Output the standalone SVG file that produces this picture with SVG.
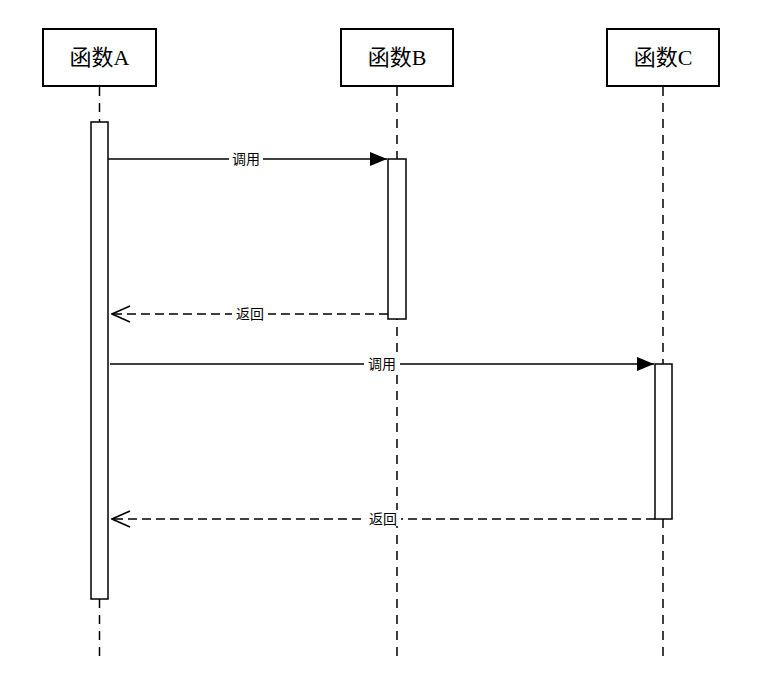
<svg xmlns="http://www.w3.org/2000/svg" width="766" height="691" viewBox="0 0 766 691">
<defs>
<style>
.box{fill:#fff;stroke:#000;stroke-width:2}
.life{stroke:#000;stroke-width:1.5;stroke-dasharray:9 7;fill:none}
.act{fill:#fff;stroke:#000;stroke-width:1.5}
.call{stroke:#000;stroke-width:1.5;fill:none}
.ret{stroke:#000;stroke-width:1.5;stroke-dasharray:9 5;fill:none}
.title{font-family:"Liberation Serif","Noto Sans CJK SC",serif;font-size:22px;text-anchor:middle}
.lbl{font-family:"Noto Sans CJK SC",sans-serif;font-size:14px;text-anchor:middle}
.bg{fill:#fff}
</style>
<marker id="filled" markerWidth="18" markerHeight="14" refX="17" refY="7" orient="auto" markerUnits="userSpaceOnUse">
<path d="M0,0 L17,7 L0,14 Z" fill="#000"/>
</marker>
<marker id="open" markerWidth="20" markerHeight="18" refX="19" refY="9" orient="auto" markerUnits="userSpaceOnUse">
<path d="M1,1 L19,9 L1,17" fill="none" stroke="#000" stroke-width="1.5"/>
</marker>
</defs>
<g id="lifelines">
<line class="life" x1="99.5" y1="87" x2="99.5" y2="662"/>
<line class="life" x1="397" y1="87" x2="397" y2="662"/>
<line class="life" x1="663" y1="87" x2="663" y2="662"/>
</g>
<g id="funcA">
<rect class="box" x="43" y="29" width="113" height="57"/>
<text class="title" x="99.5" y="65">函数A</text>
</g>
<g id="funcB">
<rect class="box" x="341" y="29" width="112" height="57"/>
<text class="title" x="397" y="65">函数B</text>
</g>
<g id="funcC">
<rect class="box" x="607" y="29" width="112" height="57"/>
<text class="title" x="663" y="65">函数C</text>
</g>
<g id="actA"><rect class="act" x="91" y="122" width="17" height="477"/></g>
<g id="actB"><rect class="act" x="388" y="159" width="18" height="160"/></g>
<g id="actC"><rect class="act" x="655" y="364" width="17" height="155"/></g>
<g id="connectors">
<line class="call" x1="108" y1="159" x2="387" y2="159" marker-end="url(#filled)"/>
<rect class="bg" x="229" y="150" width="34" height="16"/>
<text class="lbl" x="246" y="164">调用</text>
<line class="ret" x1="388" y1="314" x2="112" y2="314" marker-end="url(#open)"/>
<rect class="bg" x="232" y="305" width="36" height="16"/>
<text class="lbl" x="250" y="319">返回</text>
<line class="call" x1="110" y1="364" x2="654" y2="364" marker-end="url(#filled)"/>
<rect class="bg" x="364" y="355" width="36" height="16"/>
<text class="lbl" x="382" y="369">调用</text>
<line class="ret" x1="655" y1="519" x2="112" y2="519" marker-end="url(#open)"/>
<rect class="bg" x="365" y="510" width="36" height="16"/>
<text class="lbl" x="383" y="524">返回</text>
</g>
</svg>
